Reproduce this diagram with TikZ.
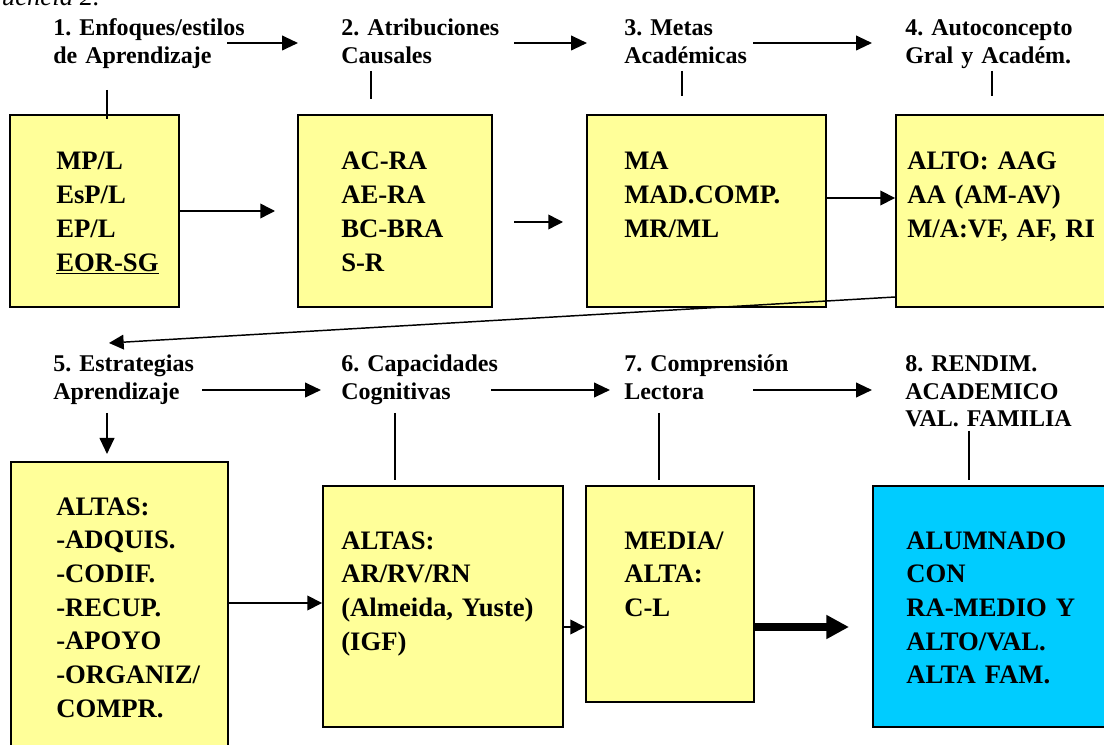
\documentclass[tikz,border=0pt]{standalone}
\usepackage{fontspec}
\setmainfont{Liberation Serif}
\usetikzlibrary{arrows.meta,fit}
\definecolor{boxyellow}{HTML}{FFFF99}
\definecolor{boxcyan}{HTML}{00CCFF}
\frenchspacing

\tikzset{
  box/.style={draw=black, line width=1.4pt, fill=boxyellow, inner sep=0pt},
  boxtext/.style={anchor=base west, inner sep=0pt, text width=200pt, align=left,
                  font=\bfseries\fontsize{20}{25.3}\selectfont},
  headtext/.style={anchor=base west, inner sep=0pt, text width=170pt, align=left,
                   font=\bfseries\fontsize{18}{20.6}\selectfont},
  flow/.style={-{Triangle[length=12pt,width=11pt]}, line width=1.5pt},
  link/.style={-{Triangle[length=11pt,width=11pt]}, line width=1.1pt},
  bigflow/.style={-{Triangle[length=17pt,width=17pt]}, line width=6pt},
  tick/.style={line width=1.3pt}
}

\begin{document}
\begin{tikzpicture}[x=0.75pt, y=-0.75pt]
            \useasboundingbox (0,0) rectangle (1104,745);

            % title (cut at the top)
            \node[anchor=base east, inner sep=0pt, font=\itshape\fontsize{20}{22}\selectfont] (title) at (100,6) {Secuencia 2.};

            %% top row
            \node[box, fit={(10,115) (179,307)}]   (b1) {};
            \node[box, fit={(298,115) (492,307)}]  (b2) {};
            \node[box, fit={(587,115) (826,307)}]  (b3) {};
            \node[box, fit={(896,115) (1120,307)}] (b4) {};

            \node[headtext] (l1) at (53,36)  {1. Enfoques/estilos\\de Aprendizaje};
            \node[headtext] (l2) at (341,36) {2. Atribuciones\\Causales};
            \node[headtext] (l3) at (624,36) {3. Metas\\Académicas};
            \node[headtext] (l4) at (905,36) {4. Autoconcepto\\Gral y Académ.};

            \node[boxtext] (t1) at (56,170)  {MP/L\\EsP/L\\EP/L\\\underline{EOR-SG}};
            \node[boxtext] (t2) at (341,170) {AC-RA\\AE-RA\\BC-BRA\\S-R};
            \node[boxtext] (t3) at (624,170) {MA\\MAD.COMP.\\MR/ML};
            \node[boxtext] (t4) at (907,170) {ALTO: AAG\\AA (AM-AV)\\M/A:VF, AF, RI};

            %% bottom row
            \node[box, fit={(11,462) (228,760)}]   (b5) {};
            \node[box, fit={(323,486) (563,727)}]  (b6) {};
            \node[box, fit={(586,486) (754,702)}]  (b7) {};
            \node[box, fill=boxcyan, fit={(873,486) (1120,727)}] (b8) {};

            \node[headtext] (l5) at (53,372)  {5. Estrategias\\Aprendizaje};
            \node[headtext] (l6) at (341,372) {6. Capacidades\\Cognitivas};
            \node[headtext] (l7) at (624,372) {7. Comprensión\\Lectora};
            \node[headtext] (l8) at (905,372) {8. RENDIM.\\ACADEMICO\\VAL. FAMILIA};

            \node[boxtext] (t5) at (56,515)  {ALTAS:\\-ADQUIS.\\-CODIF.\\-RECUP.\\-APOYO\\-ORGANIZ/\\COMPR.};
            \node[boxtext] (t6) at (341,549) {ALTAS:\\AR/RV/RN\\(Almeida, Yuste)\\(IGF)};
            \node[boxtext] (t7) at (624,549) {MEDIA/\\ALTA:\\C-L};
            \node[boxtext] (t8) at (906,549) {ALUMNADO\\CON\\RA-MEDIO Y\\ALTO/VAL.\\ALTA FAM.};

            %% arrows between the headings
            \coordinate (h1) at (227,43); \coordinate (h2) at (298,43);
            \coordinate (h3) at (514,43); \coordinate (h4) at (587,43);
            \coordinate (h5) at (753,43); \coordinate (h6) at (872,43);
            \draw[flow] (h1) -- (h2);
            \draw[flow] (h3) -- (h4);
            \draw[flow] (h5) -- (h6);

            \coordinate (g1) at (202,390); \coordinate (g2) at (321,390);
            \coordinate (g3) at (491,390); \coordinate (g4) at (610,390);
            \coordinate (g5) at (753,390); \coordinate (g6) at (872,390);
            \draw[flow] (g1) -- (g2);
            \draw[flow] (g3) -- (g4);
            \draw[flow] (g5) -- (g6);

            %% ticks from headings to boxes
            \coordinate (k1) at (107,90);  \draw[tick] (k1) -- +(0,29);
            \coordinate (k2) at (371,71);  \draw[tick] (k2) -- +(0,28);
            \coordinate (k3) at (682,71);  \draw[tick] (k3) -- +(0,25);
            \coordinate (k4) at (992,71);  \draw[tick] (k4) -- +(0,25);
            \coordinate (k6) at (395,413); \draw[tick] (k6) -- +(0,67);
            \coordinate (k7) at (659,413); \draw[tick] (k7) -- +(0,67);
            \coordinate (k8) at (969,431); \draw[tick] (k8) -- +(0,49);

            %% arrows between boxes
            \coordinate (m1) at (275,211);
            \draw[link] (b1.east) -- (m1);
            \coordinate (m2) at (514,222); \coordinate (m2e) at (563,222);
            \draw[link] (m2) -- (m2e);
            \coordinate (m3) at (850,198);
            \draw[link] (b3.east |- m3) -- (b4.west |- m3);

            % back to row 2
            \coordinate (d4) at (900,297); \coordinate (d5) at (109,343);
            \draw[link] (b4.west |- d4) -- (d5);
            \coordinate (d6) at (107,413); \coordinate (d7) at (107,454);
            \draw[flow] (d6) -- (d7);

            \coordinate (m5) at (270,603);
            \draw[link] (b5.east |- m5) -- (b6.west |- m5);
            \coordinate (m6) at (575,627);
            \draw[link] (b6.east |- m6) -- (b7.west |- m6);
            \coordinate (m7) at (849,627);
            \draw[bigflow] (b7.east |- m7) -- (m7);

\end{tikzpicture}
\end{document}
